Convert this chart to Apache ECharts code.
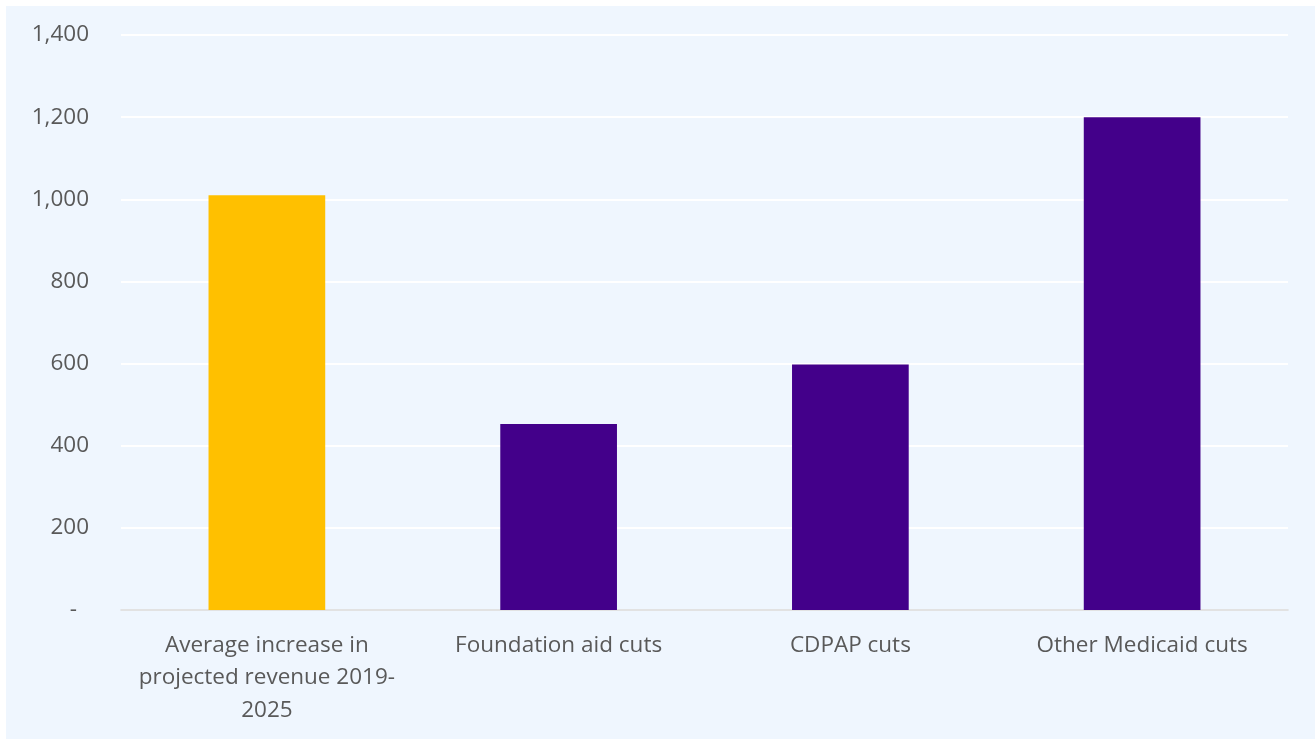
<!DOCTYPE html>
<html>
<head>
<meta charset="utf-8">
<script src="https://cdn.jsdelivr.net/npm/echarts@6/dist/echarts.min.js"></script>
<style>
  html, body { margin: 0; padding: 0; background: #ffffff; }
  #chart { position: absolute; left: 6px; top: 6px; width: 1309px; height: 733px; background: #EFF6FE; }
</style>
</head>
<body>
<div id="chart"></div>
<script>
// Categories and values (in $ millions)
const categories = [
  'Average increase in\nprojected revenue 2019-\n2025',
  'Foundation aid cuts',
  'CDPAP cuts',
  'Other Medicaid cuts'
];
const values = [1010, 453, 598, 1200];
const barColors = ['#FFC000', '#43008A', '#43008A', '#43008A'];
const yTicks = [0, 200, 400, 600, 800, 1000, 1200, 1400];

const chart = echarts.init(document.getElementById('chart'), null, { renderer: 'canvas' });
const font = '"Open Sans", Lato, sans-serif';

chart.setOption({
  backgroundColor: '#EFF6FE',
  animation: false,
  grid: { left: 115, right: 27, top: 29, bottom: 129 },
  xAxis: {
    type: 'category',
    data: categories,
    axisLine: { show: true, lineStyle: { color: '#D9D9D9', width: 1.5 } },
    axisTick: { show: false },
    axisLabel: {
      color: '#595959',
      fontFamily: font,
      fontSize: 22.5,
      lineHeight: 32.5,
      margin: 19,
      interval: 0
    }
  },
  yAxis: {
    type: 'value',
    min: yTicks[0],
    max: yTicks[yTicks.length - 1],
    interval: 200,
    axisLine: { show: false },
    axisTick: { show: false },
    splitLine: { show: true, lineStyle: { color: '#FFFFFF', width: 2 } },
    axisLabel: {
      color: '#595959',
      fontFamily: font,
      fontSize: 22.5,
      margin: 32,
      formatter: function (v) {
        return v === 0 ? '{dash|-}' : v.toLocaleString('en-US');
      },
      rich: {
        dash: { color: '#595959', fontFamily: font, fontSize: 22.5, padding: [0, 12, 0, 0] }
      }
    }
  },
  series: [{
    type: 'bar',
    barWidth: '40%',
    data: values.map((v, i) => ({ value: v, itemStyle: { color: barColors[i] } }))
  }]
});
</script>
</body>
</html>
